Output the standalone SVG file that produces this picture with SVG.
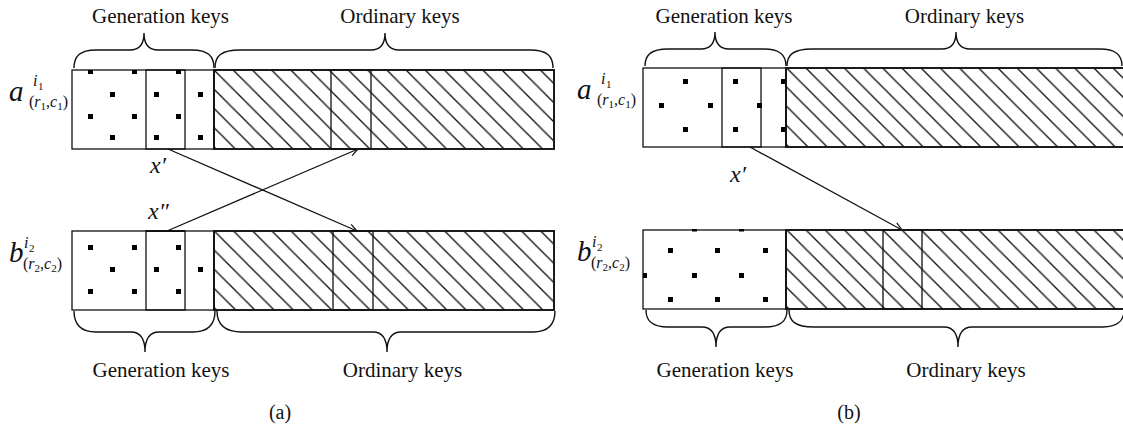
<svg xmlns="http://www.w3.org/2000/svg" width="1123" height="424" viewBox="0 0 1123 424">
<style>
.txt{font-family:"Liberation Serif","Times New Roman",serif;fill:#111}
.big{font-size:21px}
.it{font-style:italic}
.box{fill:none;stroke:#111;stroke-width:1.3}
.hbox{stroke:#111;stroke-width:1.9}
.br{fill:none;stroke:#111;stroke-width:1.4}
.dot{fill:#000}
.arr{fill:none;stroke:#111;stroke-width:1.3;marker-end:url(#ah)}
.hl{fill:none;stroke:#111;stroke-width:1.35}
</style>
<defs>
<marker id="ah" markerUnits="userSpaceOnUse" markerWidth="14" markerHeight="12" refX="11" refY="5" orient="auto">
<path d="M3,1.2 L11,5 L3,8.8" fill="none" stroke="#111" stroke-width="1.2"/>
</marker>
<pattern id="hA1" patternUnits="userSpaceOnUse" x="9.6" y="0" width="19.2" height="19.2">
<path class="hl" d="M0,0 L19.2,19.2 M-4.8,14.4 L4.8,24 M14.4,-4.8 L24,4.8"/>
</pattern>
<pattern id="hA2" patternUnits="userSpaceOnUse" x="2.5" y="0" width="19.2" height="19.2">
<path class="hl" d="M0,0 L19.2,19.2 M-4.8,14.4 L4.8,24 M14.4,-4.8 L24,4.8"/>
</pattern>
<pattern id="hB1" patternUnits="userSpaceOnUse" x="8.3" y="0" width="19.2" height="19.2">
<path class="hl" d="M0,0 L19.2,19.2 M-4.8,14.4 L4.8,24 M14.4,-4.8 L24,4.8"/>
</pattern>
<pattern id="hB2" patternUnits="userSpaceOnUse" x="0" y="0" width="19.2" height="19.2">
<path class="hl" d="M0,0 L19.2,19.2 M-4.8,14.4 L4.8,24 M14.4,-4.8 L24,4.8"/>
</pattern>
</defs>
<rect width="1123" height="424" fill="#fff"/>

<!-- Panel (a) -->
<g id="a-top-label">
<text class="txt it" x="9" y="101" font-size="29">a</text>
<text class="txt it" x="33" y="86" font-size="16">i</text>
<text class="txt" x="38" y="90" font-size="11">1</text>
<text class="txt" x="29" y="107" font-size="16">(<tspan class="it">r</tspan><tspan font-size="11" dy="3">1</tspan><tspan dy="-3">,</tspan><tspan class="it">c</tspan><tspan font-size="11" dy="3">1</tspan><tspan dy="-3">)</tspan></text>
</g>
<g id="a-top-bar">
<rect class="box" x="72" y="70" width="142" height="79"/>
<rect class="box" x="146" y="70" width="39" height="79"/>
<g class="dot">
<rect x="88" y="70" width="5" height="4"/><rect x="132" y="70" width="5" height="4"/><rect x="176" y="70" width="5" height="4"/>
<rect x="110" y="92" width="5" height="5"/><rect x="154" y="92" width="5" height="5"/><rect x="198" y="92" width="5" height="5"/>
<rect x="88" y="114" width="5" height="5"/><rect x="132" y="114" width="5" height="5"/><rect x="176" y="114" width="5" height="5"/>
<rect x="110" y="135" width="5" height="5"/><rect x="154" y="135" width="5" height="5"/><rect x="198" y="135" width="5" height="5"/>
</g>
<rect class="hbox" x="214" y="70" width="340" height="79" fill="url(#hA1)"/>
<rect class="box" x="331" y="70" width="40" height="79"/>
</g>
<g id="a-top-braces">
<path class="br" d="M74,68 C74,56 80,50 96,50 L130,50 C139,50 144,44 144,33 C144,44 149,50 158,50 L192,50 C208,50 214,56 214,68"/>
<path class="br" d="M215,68 C215,56 221,50 240,50 L371,50 C380,50 385,44 385,33 C385,44 390,50 399,50 L530,50 C547,50 553,56 553,68"/>
<text class="txt big" x="160.5" y="23" text-anchor="middle">Generation keys</text>
<text class="txt big" x="400" y="23" text-anchor="middle">Ordinary keys</text>
</g>

<g id="a-bottom-label">
<text class="txt it" x="9" y="262" font-size="29">b</text>
<text class="txt it" x="24" y="248" font-size="16">i</text>
<text class="txt" x="29" y="252" font-size="11">2</text>
<text class="txt" x="23" y="269" font-size="16">(<tspan class="it">r</tspan><tspan font-size="11" dy="3">2</tspan><tspan dy="-3">,</tspan><tspan class="it">c</tspan><tspan font-size="11" dy="3">2</tspan><tspan dy="-3">)</tspan></text>
</g>
<g id="a-bottom-bar">
<rect class="box" x="72" y="231" width="142" height="79"/>
<rect class="box" x="146" y="231" width="39" height="79"/>
<line x1="146" y1="231" x2="185" y2="231" stroke="#111" stroke-width="2"/>
<g class="dot">
<rect x="88" y="245" width="5" height="5"/><rect x="132" y="245" width="5" height="5"/><rect x="176" y="245" width="5" height="5"/>
<rect x="110" y="267" width="5" height="5"/><rect x="154" y="267" width="5" height="5"/><rect x="198" y="267" width="5" height="5"/>
<rect x="88" y="289" width="5" height="5"/><rect x="132" y="289" width="5" height="5"/><rect x="176" y="289" width="5" height="5"/>
</g>
<rect class="hbox" x="214" y="231" width="340" height="79" fill="url(#hA2)"/>
<rect class="box" x="333" y="231" width="40" height="79"/>
<line x1="333" y1="231" x2="373" y2="231" stroke="#111" stroke-width="2"/>
</g>
<g id="a-bottom-braces">
<path class="br" d="M74,311 C74,323 80,332 96,332 L131,332 C140,332 145,338 145,352 C145,338 150,332 159,332 L193,332 C209,332 215,323 215,311"/>
<path class="br" d="M217,311 C217,323 223,332 242,332 L373,332 C382,332 387,338 387,352 C387,338 392,332 401,332 L533,332 C550,332 555,323 555,311"/>
<text class="txt big" x="161" y="377" text-anchor="middle">Generation keys</text>
<text class="txt big" x="402.5" y="377" text-anchor="middle">Ordinary keys</text>
<text class="txt" x="280" y="419" font-size="20" text-anchor="middle">(a)</text>
</g>

<!-- Panel (b) -->
<g id="b-top-label">
<text class="txt it" x="577" y="99" font-size="29">a</text>
<text class="txt it" x="601" y="84" font-size="16">i</text>
<text class="txt" x="606" y="88" font-size="11">1</text>
<text class="txt" x="597" y="105" font-size="16">(<tspan class="it">r</tspan><tspan font-size="11" dy="3">1</tspan><tspan dy="-3">,</tspan><tspan class="it">c</tspan><tspan font-size="11" dy="3">1</tspan><tspan dy="-3">)</tspan></text>
</g>
<g id="b-top-bar">
<rect class="box" x="643" y="68" width="143" height="79"/>
<rect class="box" x="722" y="68" width="39" height="79"/>
<g class="dot">
<rect x="683" y="79" width="5" height="5"/><rect x="733" y="79" width="5" height="5"/><rect x="781" y="79" width="5" height="5"/>
<rect x="659" y="103" width="5" height="5"/><rect x="708" y="103" width="5" height="5"/><rect x="757" y="103" width="5" height="5"/>
<rect x="683" y="127" width="5" height="5"/><rect x="733" y="127" width="5" height="5"/><rect x="781" y="127" width="5" height="5"/>
</g>
<rect class="hbox" x="786" y="68" width="340" height="79" fill="url(#hB1)"/>
</g>
<g id="b-top-braces">
<path class="br" d="M645,66 C645,55 651,49 668,49 L701,49 C710,49 715,43 715,32 C715,43 720,49 729,49 L764,49 C780,49 786,55 786,66"/>
<path class="br" d="M787,66 C787,55 793,49 812,49 L942,49 C951,49 956,43 956,32 C956,43 961,49 970,49 L1100,49 C1116,49 1122,55 1122,66"/>
<text class="txt big" x="724" y="23" text-anchor="middle">Generation keys</text>
<text class="txt big" x="964.5" y="23" text-anchor="middle">Ordinary keys</text>
</g>

<g id="b-bottom-label">
<text class="txt it" x="577" y="261" font-size="29">b</text>
<text class="txt it" x="592" y="247" font-size="16">i</text>
<text class="txt" x="597" y="251" font-size="11">2</text>
<text class="txt" x="591" y="268" font-size="16">(<tspan class="it">r</tspan><tspan font-size="11" dy="3">2</tspan><tspan dy="-3">,</tspan><tspan class="it">c</tspan><tspan font-size="11" dy="3">2</tspan><tspan dy="-3">)</tspan></text>
</g>
<g id="b-bottom-bar">
<rect class="box" x="643" y="230" width="143" height="79"/>
<g class="dot">
<rect x="692" y="229" width="5" height="2.5"/><rect x="739" y="229" width="5" height="2.5"/>
<rect x="668" y="248" width="5" height="5"/><rect x="715" y="248" width="5" height="5"/><rect x="763" y="248" width="5" height="5"/>
<rect x="643" y="273" width="4" height="5"/><rect x="692" y="273" width="5" height="5"/><rect x="739" y="273" width="5" height="5"/>
<rect x="668" y="297" width="5" height="5"/><rect x="715" y="297" width="5" height="5"/><rect x="763" y="297" width="5" height="5"/>
</g>
<rect class="hbox" x="786" y="230" width="340" height="79" fill="url(#hB2)"/>
<rect class="box" x="883" y="230" width="39" height="79"/>
</g>
<g id="b-bottom-braces">
<path class="br" d="M646,310 C646,321 652,327 668,327 L702,327 C711,327 716,333 716,347 C716,333 721,327 730,327 L765,327 C781,327 787,321 787,310"/>
<path class="br" d="M789,310 C789,321 795,327 814,327 L944,327 C953,327 958,333 958,347 C958,333 963,327 972,327 L1102,327 C1118,327 1124,321 1124,310"/>
<text class="txt big" x="725" y="377" text-anchor="middle">Generation keys</text>
<text class="txt big" x="966" y="377" text-anchor="middle">Ordinary keys</text>
<text class="txt" x="849" y="419" font-size="20" text-anchor="middle">(b)</text>
</g>

<g id="connectors">
<line class="arr" x1="168" y1="149" x2="357" y2="231"/>
<line class="arr" x1="167" y1="231" x2="358" y2="149"/>
<line class="arr" x1="750" y1="147" x2="902" y2="230"/>
<text class="txt it" x="150" y="173" font-size="24">x′</text>
<text class="txt it" x="148" y="219" font-size="24">x″</text>
<text class="txt it" x="730" y="182" font-size="24">x′</text>
</g>
</svg>
